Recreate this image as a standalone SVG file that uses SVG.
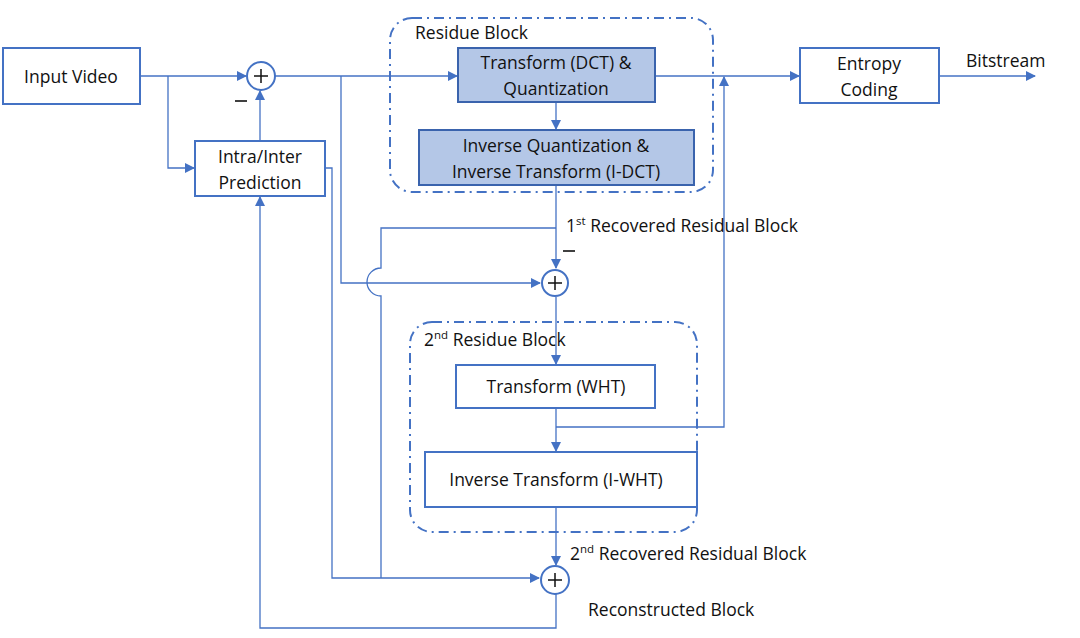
<svg xmlns="http://www.w3.org/2000/svg" width="1080" height="638" viewBox="0 0 1080 638">
<style>
.box{fill:#fff;stroke:#4472c4;stroke-width:2}
.fill{fill:#b4c7e7;stroke:#3a63ad;stroke-width:2}
.dash{fill:none;stroke:#4472c4;stroke-width:2;stroke-dasharray:10 5 2 5}
.ln{fill:none;stroke:#4472c4;stroke-width:1.3}
.sum{fill:#fff;stroke:#4472c4;stroke-width:2}
text{font-family:"Open Sans","Liberation Sans",sans-serif;font-size:17.5px;fill:#111}
.c{text-anchor:middle}
</style>
<defs>
<marker id="a" markerWidth="10" markerHeight="10" refX="9" refY="5" orient="auto" markerUnits="userSpaceOnUse" viewBox="0 0 10 10"><path d="M0,0 L10,5 L0,10 z" fill="#4472c4"/></marker>
</defs>
<rect fill="#fff" width="1080" height="638"/>
<g id="residue-block"><rect class="dash" x="390" y="18" width="323" height="174" rx="22"/><text x="415" y="39">Residue  Block</text></g>
<g id="residue-block-2"><rect class="dash" x="410" y="322" width="287" height="210" rx="22"/><text x="424" y="346">2<tspan font-size="11.5" dy="-7">nd</tspan><tspan dy="7"> Residue Block</tspan></text></g>
<g id="connectors">
<path class="ln" d="M140,76 H246" marker-end="url(#a)"/>
<path class="ln" d="M168,76 V168 H194" marker-end="url(#a)"/>
<path class="ln" d="M260,141 V91" marker-end="url(#a)"/>
<path class="ln" d="M275,76 H457" marker-end="url(#a)"/>
<path class="ln" d="M341,76 V283 H540" marker-end="url(#a)"/>
<path class="ln" d="M325,168 H332 V578 H539" marker-end="url(#a)"/>
<path class="ln" d="M556,102 V129" marker-end="url(#a)"/>
<path class="ln" d="M556,185 V268" marker-end="url(#a)"/>
<path class="ln" d="M556,228 H381 V268 A14,14 0 0 0 381,296 V578"/>
<path class="ln" d="M556,297 V364" marker-end="url(#a)"/>
<path class="ln" d="M556,408 V451" marker-end="url(#a)"/>
<path class="ln" d="M556,427 H724 V77" marker-end="url(#a)"/>
<path class="ln" d="M655,76 H799" marker-end="url(#a)"/>
<path class="ln" d="M939,76 H1035" marker-end="url(#a)"/>
<path class="ln" d="M556,507 V565" marker-end="url(#a)"/>
<path class="ln" d="M556,594 V628 H260 V197" marker-end="url(#a)"/>
</g>
<g id="input-video"><rect class="box" x="3" y="48" width="137" height="56"/><text class="c" x="71" y="83">Input Video</text></g>
<g id="sum1"><circle class="sum" cx="261" cy="76" r="14"/><path d="M254,76H268M261,69V83" stroke="#111" stroke-width="1.5"/><path d="M235,101H247" stroke="#111" stroke-width="1.6"/></g>
<g id="intra-inter"><rect class="box" x="195" y="141" width="130" height="55"/><text class="c" x="260" y="163">Intra/Inter</text><text class="c" x="260" y="189">Prediction</text></g>
<g id="dct"><rect class="fill" x="458" y="48" width="197" height="54"/><text class="c" x="556" y="69">Transform (DCT) &amp;</text><text class="c" x="556" y="95">Quantization</text></g>
<g id="idct"><rect class="fill" x="419" y="130" width="275" height="55"/><text class="c" x="556" y="152">Inverse Quantization &amp;</text><text class="c" x="556" y="178">Inverse Transform (I-DCT)</text></g>
<g id="sum2"><circle class="sum" cx="555" cy="283" r="13"/><path d="M548,283H562M555,276V290" stroke="#111" stroke-width="1.5"/><path d="M563,251H575" stroke="#111" stroke-width="1.6"/></g>
<text x="566" y="232">1<tspan font-size="11.5" dy="-7">st</tspan><tspan dy="7"> Recovered Residual Block</tspan></text>
<g id="wht"><rect class="box" x="456" y="365" width="199" height="43"/><text class="c" x="556" y="393">Transform (WHT)</text></g>
<g id="iwht"><rect class="box" x="425" y="452" width="272" height="55"/><text class="c" x="556" y="486">Inverse Transform (I-WHT)</text></g>
<g id="sum3"><circle class="sum" cx="555" cy="580" r="14"/><path d="M548,580H562M555,573V587" stroke="#111" stroke-width="1.5"/></g>
<text x="570" y="560">2<tspan font-size="11.5" dy="-7">nd</tspan><tspan dy="7"> Recovered Residual Block</tspan></text>
<text x="588" y="616">Reconstructed Block</text>
<g id="entropy"><rect class="box" x="800" y="48" width="139" height="55"/><text class="c" x="869" y="70">Entropy</text><text class="c" x="869" y="96">Coding</text></g>
<text x="966" y="67">Bitstream</text>
</svg>
